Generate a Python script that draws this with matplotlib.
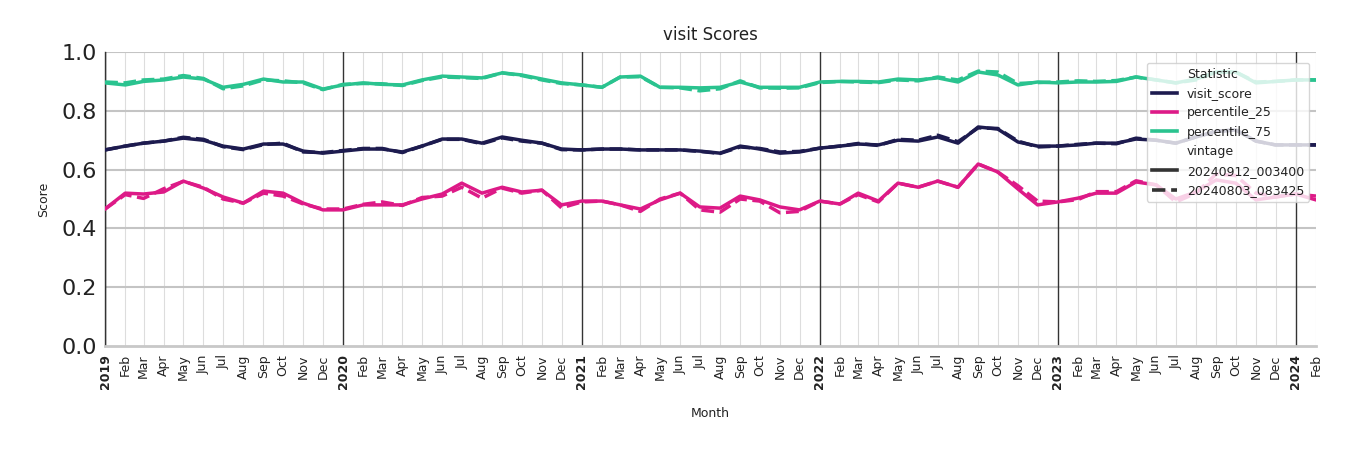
import matplotlib
matplotlib.use("Agg")
import matplotlib.pyplot as plt
import matplotlib.dates as mdates
from matplotlib.lines import Line2D
import pandas as pd
import numpy as np

months = pd.date_range("2019-01-01", "2024-02-01", freq="MS")

visit_new = [0.667, 0.68, 0.69, 0.697, 0.707, 0.70, 0.68, 0.67, 0.687, 0.687, 0.663, 0.656,
             0.663, 0.67, 0.67, 0.66, 0.68, 0.704, 0.704, 0.69, 0.711, 0.70, 0.69, 0.67,
             0.667, 0.67, 0.67, 0.667, 0.667, 0.667, 0.663, 0.656, 0.68, 0.67, 0.656, 0.66,
             0.673, 0.68, 0.687, 0.684, 0.70, 0.697, 0.711, 0.69, 0.745, 0.738, 0.694, 0.68,
             0.68, 0.684, 0.69, 0.69, 0.704, 0.70, 0.69, 0.711, 0.73, 0.735, 0.697, 0.684,
             0.684, 0.684]
visit_old = [0.667, 0.68, 0.69, 0.697, 0.71, 0.703, 0.678, 0.668, 0.685, 0.69, 0.66, 0.658,
             0.665, 0.672, 0.672, 0.658, 0.68, 0.703, 0.703, 0.688, 0.708, 0.697, 0.69, 0.668,
             0.667, 0.67, 0.67, 0.667, 0.667, 0.667, 0.662, 0.655, 0.677, 0.672, 0.66, 0.662,
             0.673, 0.68, 0.689, 0.682, 0.703, 0.70, 0.717, 0.695, 0.742, 0.74, 0.697, 0.677,
             0.68, 0.686, 0.69, 0.688, 0.707, 0.70, 0.69, 0.711, 0.73, 0.735, 0.697, 0.684,
             0.684, 0.684]

p75_new = [0.895, 0.888, 0.90, 0.905, 0.915, 0.908, 0.88, 0.89, 0.908, 0.898, 0.898, 0.874,
           0.888, 0.895, 0.89, 0.888, 0.905, 0.918, 0.915, 0.912, 0.929, 0.922, 0.908, 0.895,
           0.888, 0.88, 0.915, 0.918, 0.88, 0.88, 0.878, 0.88, 0.898, 0.88, 0.88, 0.88,
           0.898, 0.90, 0.90, 0.898, 0.908, 0.905, 0.912, 0.898, 0.932, 0.922, 0.888, 0.898,
           0.895, 0.898, 0.898, 0.90, 0.915, 0.905, 0.895, 0.908, 0.932, 0.932, 0.895, 0.90,
           0.905, 0.905]
p75_old = [0.898, 0.895, 0.905, 0.908, 0.92, 0.91, 0.875, 0.885, 0.905, 0.902, 0.895, 0.872,
           0.89, 0.893, 0.892, 0.886, 0.903, 0.915, 0.913, 0.91, 0.929, 0.92, 0.905, 0.893,
           0.888, 0.88, 0.915, 0.916, 0.88, 0.878, 0.868, 0.875, 0.902, 0.878, 0.877, 0.878,
           0.896, 0.90, 0.898, 0.896, 0.905, 0.902, 0.915, 0.905, 0.935, 0.932, 0.893, 0.896,
           0.898, 0.902, 0.9, 0.903, 0.915, 0.905, 0.895, 0.905, 0.932, 0.932, 0.898, 0.90,
           0.905, 0.905]

p25_new = [0.466, 0.52, 0.517, 0.524, 0.561, 0.537, 0.507, 0.486, 0.527, 0.52, 0.486, 0.463,
           0.463, 0.48, 0.48, 0.48, 0.50, 0.517, 0.554, 0.52, 0.54, 0.524, 0.53, 0.48,
           0.493, 0.493, 0.48, 0.466, 0.497, 0.52, 0.473, 0.469, 0.51, 0.497, 0.473, 0.463,
           0.493, 0.483, 0.52, 0.493, 0.554, 0.54, 0.561, 0.54, 0.619, 0.592, 0.534, 0.48,
           0.49, 0.503, 0.52, 0.52, 0.558, 0.548, 0.50, 0.524, 0.565, 0.554, 0.497, 0.507,
           0.517, 0.497]
p25_old = [0.466, 0.515, 0.502, 0.535, 0.56, 0.54, 0.50, 0.486, 0.52, 0.51, 0.483, 0.466,
           0.466, 0.482, 0.49, 0.478, 0.505, 0.51, 0.54, 0.503, 0.537, 0.52, 0.53, 0.47,
           0.49, 0.493, 0.48, 0.458, 0.50, 0.52, 0.463, 0.455, 0.50, 0.493, 0.453, 0.458,
           0.493, 0.483, 0.515, 0.49, 0.554, 0.54, 0.561, 0.54, 0.619, 0.592, 0.545, 0.493,
           0.49, 0.498, 0.525, 0.525, 0.562, 0.548, 0.49, 0.52, 0.585, 0.58, 0.52, 0.507,
           0.517, 0.51]

month_names = ["Jan", "Feb", "Mar", "Apr", "May", "Jun", "Jul", "Aug", "Sep", "Oct", "Nov", "Dec"]

c_visit = "#1d1b4f"
c_p25 = "#dd1a87"
c_p75 = "#2ac38f"

fig = plt.figure(figsize=(13.5, 4.5), dpi=100)
ax = fig.add_axes([0.0778, 0.2311, 0.897, 0.6533])

# grid
for d in months:
    if d.month == 1:
        ax.axvline(d, color="#333333", lw=1.0, zorder=1)
    else:
        ax.axvline(d, color="#dddddd", lw=0.8, zorder=0)
for yv in [0.2, 0.4, 0.6, 0.8, 1.0]:
    ax.axhline(yv, color="#c4c4c4", lw=1.5, zorder=0)

lw = 2.5
dash = (0, (3.7, 1.6))
ax.plot(months, visit_new, color=c_visit, lw=lw, zorder=3)
ax.plot(months, p25_new, color=c_p25, lw=lw, zorder=3)
ax.plot(months, p75_new, color=c_p75, lw=lw, zorder=3)
ax.plot(months, visit_old, color=c_visit, lw=lw, ls=dash, zorder=3)
ax.plot(months, p25_old, color=c_p25, lw=lw, ls=dash, zorder=3)
ax.plot(months, p75_old, color=c_p75, lw=lw, ls=dash, zorder=3)

ax.set_ylim(0, 1.0)
ax.set_xlim(months[0], months[-1])
ax.set_yticks([0.0, 0.2, 0.4, 0.6, 0.8, 1.0])
ax.tick_params(axis="y", labelsize=16, length=0, pad=6, labelcolor="#222222")
ax.set_xticks(months)
labels = [str(d.year) if d.month == 1 else month_names[d.month - 1] for d in months]
ax.set_xticklabels(labels, rotation=90, fontsize=9, color="#222222")
for lab, d in zip(ax.get_xticklabels(), months):
    if d.month == 1:
        lab.set_fontweight("bold")
ax.tick_params(axis="x", length=0, pad=6)
ax.grid(False)

for s in ["top", "right"]:
    ax.spines[s].set_visible(False)
ax.spines["left"].set_color("#333333")
ax.spines["left"].set_linewidth(1.0)
ax.spines["bottom"].set_color("#c8c8c8")
ax.spines["bottom"].set_linewidth(2.0)

ax.set_title("visit Scores", fontsize=12, color="#222222", pad=9)
ax.set_xlabel("Month", fontsize=9, color="#222222", labelpad=13)
ax.set_ylabel("Score", fontsize=9, color="#222222", labelpad=8)

blank = Line2D([], [], color="none")
handles = [blank,
           Line2D([], [], color=c_visit, lw=2.6),
           Line2D([], [], color=c_p25, lw=2.6),
           Line2D([], [], color=c_p75, lw=2.6),
           blank,
           Line2D([], [], color="#333333", lw=2.6),
           Line2D([], [], color="#333333", lw=2.6, ls=dash)]
texts = ["Statistic", "visit_score", "percentile_25", "percentile_75",
         "vintage", "20240912_003400", "20240803_083425"]
leg = ax.legend(handles, texts, loc="upper right", bbox_to_anchor=(0.9995, 0.985),
                fontsize=9, frameon=True, framealpha=0.8, edgecolor="#cccccc",
                handlelength=2.0, borderpad=0.4, labelspacing=0.51, fancybox=True)
leg.set_zorder(5)
for t in leg.get_texts():
    t.set_color("#222222")

fig.savefig("out.png", dpi=100)
